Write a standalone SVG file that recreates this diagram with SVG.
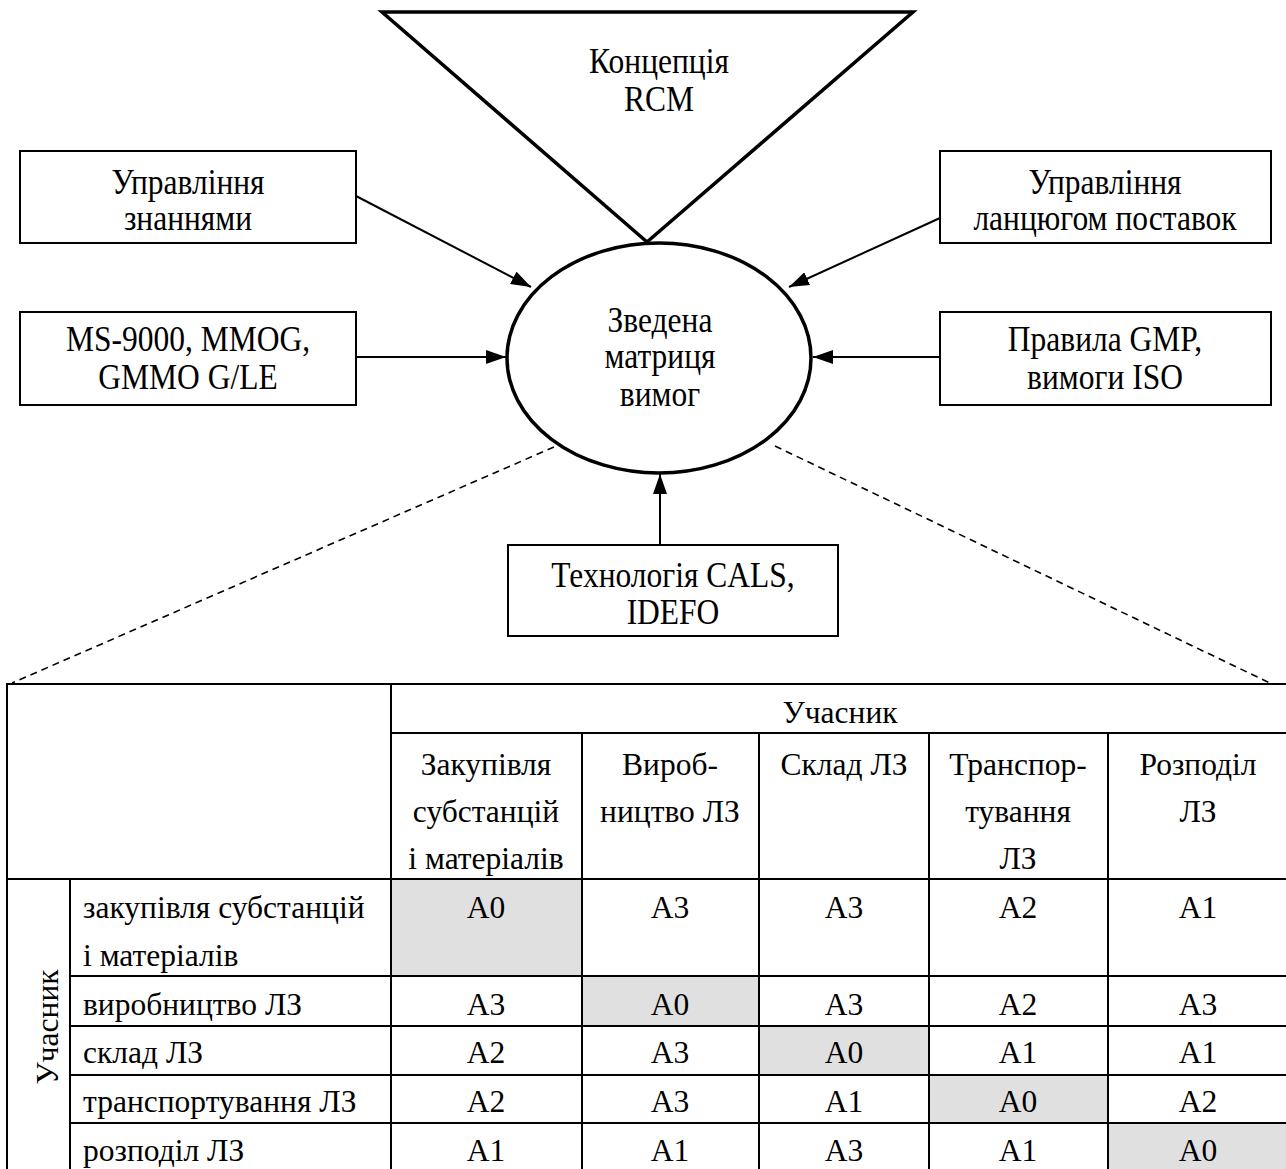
<svg xmlns="http://www.w3.org/2000/svg" width="1286" height="1169" viewBox="0 0 1286 1169">
<defs>
<marker id="ah" viewBox="0 0 20 14" refX="20" refY="7" markerWidth="20" markerHeight="14" markerUnits="userSpaceOnUse" orient="auto">
<path d="M0,0 L20,7 L0,14 Z" fill="#000"/>
</marker>
<style>
text{font-family:"Liberation Serif","Times New Roman",serif;fill:#000}
.d{font-size:31.5px;text-anchor:middle}
.t{font-size:31.5px}
.c{text-anchor:middle}
.box{fill:#fff;stroke:#000;stroke-width:2}
.con{stroke:#000;stroke-width:2;fill:none}
.dash{stroke:#000;stroke-width:1.6;fill:none;stroke-dasharray:7 5}
.grid{stroke:#000;stroke-width:2;fill:none}
.g{fill:#e0e0e0}
</style>
</defs>
<rect width="1286" height="1169" fill="#fff"/>

<g id="connectors">
<line class="con" x1="356" y1="196" x2="531" y2="287" marker-end="url(#ah)"/>
<line class="con" x1="356" y1="357" x2="506" y2="357" marker-end="url(#ah)"/>
<line class="con" x1="940" y1="218" x2="789" y2="287" marker-end="url(#ah)"/>
<line class="con" x1="940" y1="357" x2="813" y2="357" marker-end="url(#ah)"/>
<line class="con" x1="660" y1="545" x2="660" y2="474" marker-end="url(#ah)"/>
<line class="dash" x1="554" y1="447" x2="12" y2="683"/>
<line class="dash" x1="775" y1="446" x2="1272" y2="684"/>
</g>

<g id="rcm">
<polygon points="382,12 913,12 647,242" fill="#fff" stroke="#000" stroke-width="3.5" stroke-linejoin="miter"/>
<text class="d" transform="translate(659 73) scale(1 1.15)">Концепція</text>
<text class="d" transform="translate(659 111) scale(1 1.15)">RCM</text>
</g>

<g id="matrix">
<ellipse cx="659" cy="358" rx="152" ry="115" fill="#fff" stroke="#000" stroke-width="3.5"/>
<text class="d" transform="translate(660 332) scale(1 1.15)">Зведена</text>
<text class="d" transform="translate(660 368) scale(1 1.15)">матриця</text>
<text class="d" transform="translate(660 406) scale(1 1.15)">вимог</text>
</g>

<g id="knowledge">
<rect class="box" x="20" y="151" width="336" height="92"/>
<text class="d" transform="translate(188 194) scale(1 1.15)">Управління</text>
<text class="d" transform="translate(188 230) scale(1 1.15)">знаннями</text>
</g>

<g id="ms9000">
<rect class="box" x="20" y="312" width="336" height="93"/>
<text class="d" transform="translate(188 351) scale(1 1.15)">MS-9000, MMOG,</text>
<text class="d" transform="translate(188 389) scale(1 1.15)">GMMO G/LE</text>
</g>

<g id="supply">
<rect class="box" x="940" y="151" width="331" height="92"/>
<text class="d" transform="translate(1105 194) scale(1 1.15)">Управління</text>
<text class="d" transform="translate(1105 230) scale(1 1.15)">ланцюгом поставок</text>
</g>

<g id="gmp">
<rect class="box" x="940" y="312" width="331" height="93"/>
<text class="d" transform="translate(1105 351) scale(1 1.15)">Правила GMP,</text>
<text class="d" transform="translate(1105 389) scale(1 1.15)">вимоги ISO</text>
</g>

<g id="cals">
<rect class="box" x="508" y="545" width="330" height="91"/>
<text class="d" transform="translate(673 587) scale(1 1.15)">Технологія CALS,</text>
<text class="d" transform="translate(673 624) scale(1 1.15)">IDEFO</text>
</g>

<g id="table">
<rect class="g" x="391" y="879" width="191" height="97"/>
<rect class="g" x="582" y="976" width="177" height="50"/>
<rect class="g" x="759" y="1026" width="170" height="49"/>
<rect class="g" x="929" y="1075" width="179" height="48"/>
<rect class="g" x="1108" y="1123" width="182" height="50"/>
<g class="grid">
<line x1="7" y1="684" x2="1290" y2="684"/>
<line x1="391" y1="733" x2="1290" y2="733"/>
<line x1="7" y1="879" x2="1290" y2="879"/>
<line x1="70" y1="976" x2="1290" y2="976"/>
<line x1="70" y1="1026" x2="1290" y2="1026"/>
<line x1="70" y1="1075" x2="1290" y2="1075"/>
<line x1="70" y1="1123" x2="1290" y2="1123"/>
<line x1="7" y1="1173" x2="1290" y2="1173"/>
<line x1="7" y1="683" x2="7" y2="1173"/>
<line x1="70" y1="879" x2="70" y2="1173"/>
<line x1="391" y1="683" x2="391" y2="1173"/>
<line x1="582" y1="733" x2="582" y2="1173"/>
<line x1="759" y1="733" x2="759" y2="1173"/>
<line x1="929" y1="733" x2="929" y2="1173"/>
<line x1="1108" y1="733" x2="1108" y2="1173"/>
</g>
<text class="t c" x="840" y="723">Учасник</text>
<text class="t c" x="486" y="775">Закупівля</text>
<text class="t c" x="486" y="822">субстанцій</text>
<text class="t c" x="486" y="869">і матеріалів</text>
<text class="t c" x="670" y="775">Вироб-</text>
<text class="t c" x="670" y="822">ництво ЛЗ</text>
<text class="t c" x="844" y="775">Склад ЛЗ</text>
<text class="t c" x="1018" y="775">Транспор-</text>
<text class="t c" x="1018" y="822">тування</text>
<text class="t c" x="1018" y="869">ЛЗ</text>
<text class="t c" x="1198" y="775">Розподіл</text>
<text class="t c" x="1198" y="822">ЛЗ</text>
<text class="t c" transform="translate(58 1027) rotate(-90)">Учасник</text>
<text class="t" x="83" y="918">закупівля субстанцій</text>
<text class="t" x="83" y="966">і матеріалів</text>
<text class="t" x="83" y="1015">виробництво ЛЗ</text>
<text class="t" x="83" y="1063">склад ЛЗ</text>
<text class="t" x="83" y="1112">транспортування ЛЗ</text>
<text class="t" x="83" y="1161">розподіл ЛЗ</text>
<g class="t c">
<text x="486" y="918">A0</text><text x="670" y="918">A3</text><text x="844" y="918">A3</text><text x="1018" y="918">A2</text><text x="1198" y="918">A1</text>
<text x="486" y="1015">A3</text><text x="670" y="1015">A0</text><text x="844" y="1015">A3</text><text x="1018" y="1015">A2</text><text x="1198" y="1015">A3</text>
<text x="486" y="1063">A2</text><text x="670" y="1063">A3</text><text x="844" y="1063">A0</text><text x="1018" y="1063">A1</text><text x="1198" y="1063">A1</text>
<text x="486" y="1112">A2</text><text x="670" y="1112">A3</text><text x="844" y="1112">A1</text><text x="1018" y="1112">A0</text><text x="1198" y="1112">A2</text>
<text x="486" y="1161">A1</text><text x="670" y="1161">A1</text><text x="844" y="1161">A3</text><text x="1018" y="1161">A1</text><text x="1198" y="1161">A0</text>
</g>
</g>
</svg>
